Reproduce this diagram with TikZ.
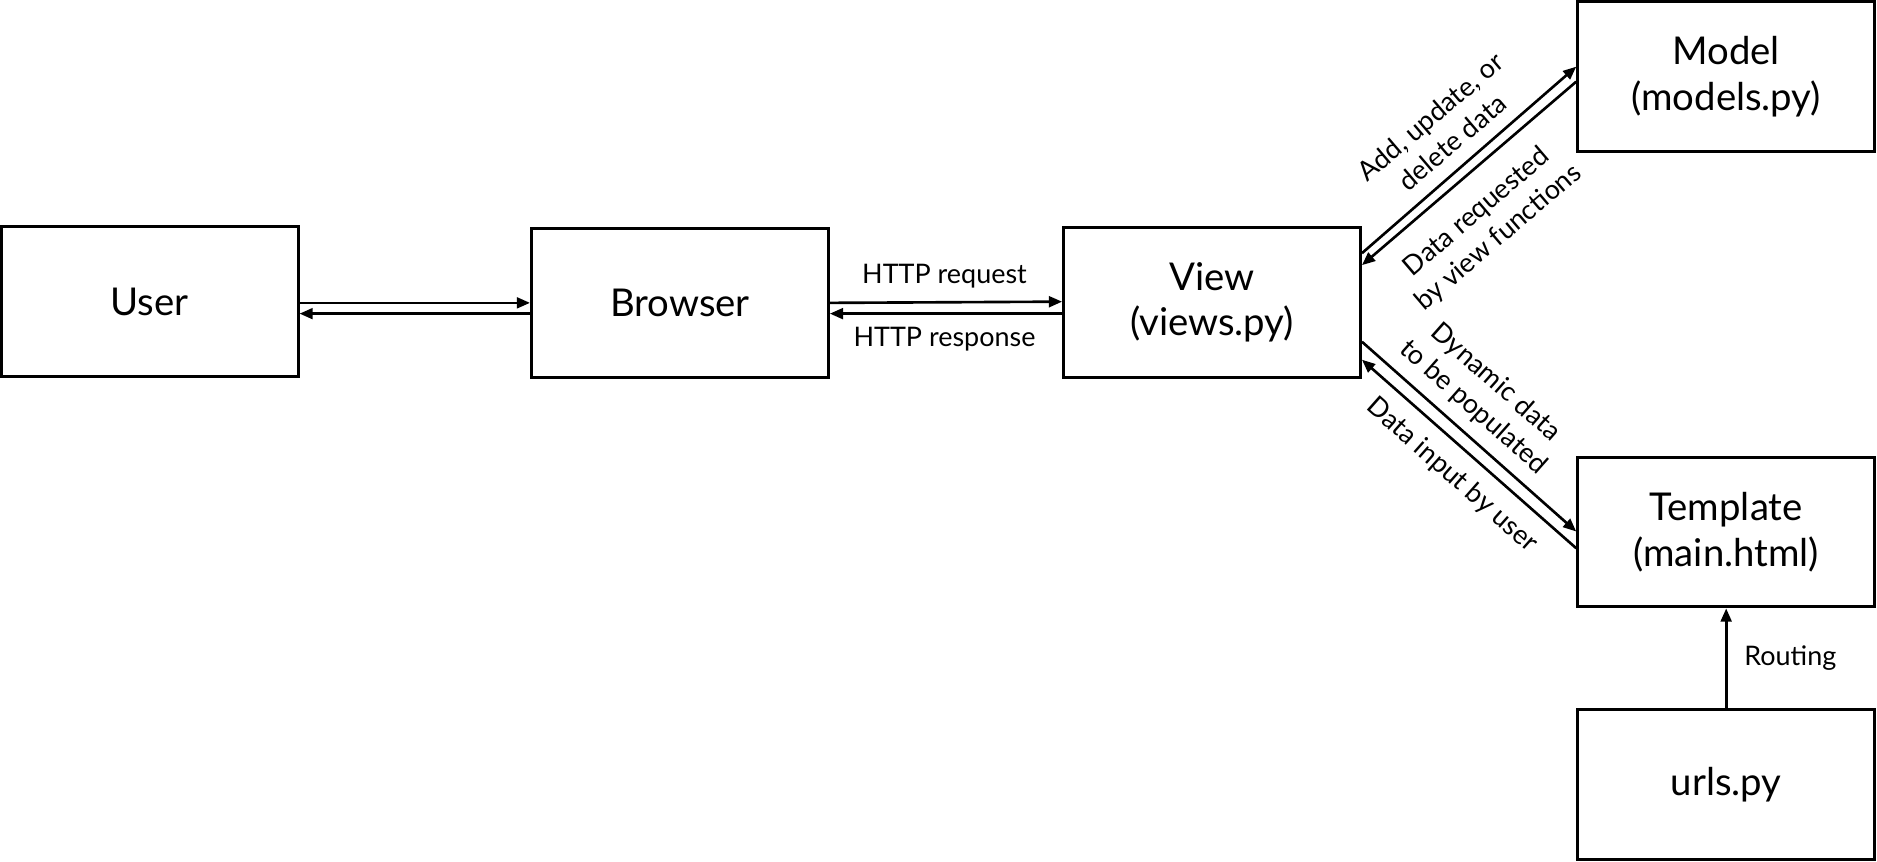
\documentclass[tikz,border=0pt]{standalone}
\usepackage{fontspec}
\setmainfont{Lato}
\usetikzlibrary{arrows.meta}
\begin{document}
\begin{tikzpicture}[x=1pt,y=-1pt,
  box/.style={draw=black,line width=2.5pt,minimum width=248pt,minimum height=125pt,inner sep=0pt,align=center,font=\fontsize{32}{38}\selectfont},
  conn/.style={line width=2.2pt,-{Triangle[length=11pt,width=9pt]}},
  lbl/.style={font=\fontsize{22.5}{28}\selectfont,align=center,inner sep=0pt}]
\useasboundingbox (0,0) rectangle (1568,720);
\node[box] (user) at (125,252) {User};
\node[box] (browser) at (568,253) {Browser};
\node[box] (view) at (1012.5,252.5) {View\\(views.py)};
\node[box] (model) at (1442,64) {Model\\(models.py)};
\node[box] (template) at (1442,444.5) {Template\\(main.html)};
\node[box] (urls) at (1442,655.5) {urls.py};
% User - Browser
\draw[conn] ([yshift=-1pt]user.east) -- ([yshift=0pt]browser.west);
\draw[conn] ([yshift=-9pt]browser.west) -- ([yshift=-10pt]user.east);
% Browser - View
\draw[conn] ([yshift=0pt]browser.east) -- ([yshift=0.5pt]view.west);
\draw[conn] ([yshift=-9.5pt]view.west) -- ([yshift=-9pt]browser.east);
\node[lbl] (lreq) at (789,231) {HTTP request};
\node[lbl] (lresp) at (789,283) {HTTP response};
% View - Model
\draw[conn] ([yshift=41pt]view.east) -- ([yshift=8.3pt]model.west);
\draw[conn] ([yshift=-4.2pt]model.west) -- ([yshift=31pt]view.east);
\node[lbl,rotate=40.5] (ladd) at (1204,108) {Add, update, or\\delete data};
\node[lbl,rotate=40.5] (lreqd) at (1243,188) {Data requested\\by view functions};
% View - Template
\draw[conn] ([yshift=-33pt]view.east) -- ([yshift=0.5pt]template.west);
\draw[conn] ([yshift=-13.5pt]template.west) -- ([yshift=-48pt]view.east);
\node[lbl,rotate=-41.5] (ldyn) at (1240,330) {Dynamic data\\to be populated};
\node[lbl,rotate=-41.5] (linput) at (1213,397) {Data input by user};
% urls - Template
\draw[conn] (urls.north) -- (template.south);
\node[lbl,anchor=west] (lrout) at (1457,550) {Routing};
\end{tikzpicture}
\end{document}
